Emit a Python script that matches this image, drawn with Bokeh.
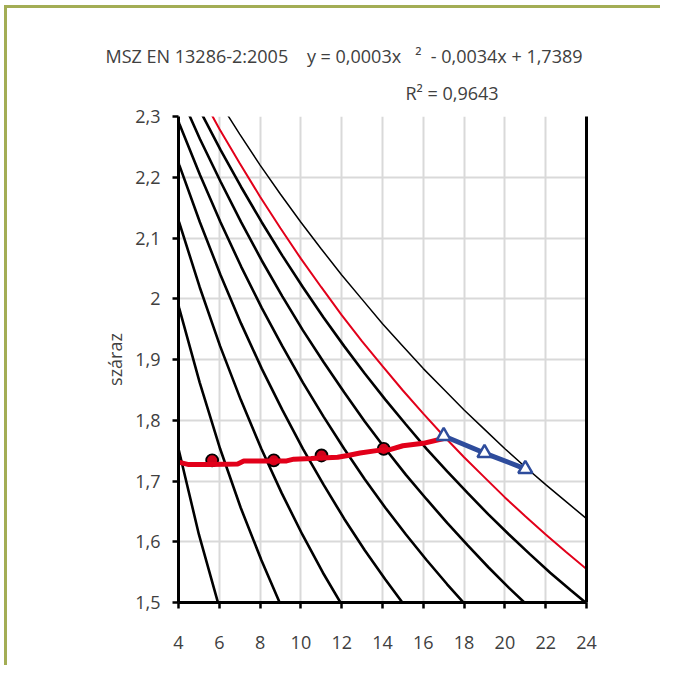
from bokeh.plotting import figure
from bokeh.models import Range1d, FixedTicker, LinearAxis, Title, CustomJSTickFormatter
from bokeh.embed import file_html
from bokeh.resources import INLINE

# ---- data ----
x_ticks = [4, 6, 8, 10, 12, 14, 16, 18, 20, 22, 24]
x_tick_labels = ["4", "6", "8", "10", "12", "14", "16", "18", "20", "22", "24"]
y_ticks = [1.5, 1.6, 1.7, 1.8, 1.9, 2.0, 2.1, 2.2, 2.3]
y_tick_labels = ["1,5", "1,6", "1,7", "1,8", "1,9", "2", "2,1", "2,2", "2,3"]

sr20_x = [3, 4, 5, 6, 7]
sr20_y = [1.922, 1.753, 1.612, 1.492, 1.388]

sr30_x = [3.02, 4.03, 5.04, 6.04, 7.05, 8.06, 9.06, 10.07]
sr30_y = [2.126, 1.985, 1.862, 1.753, 1.656, 1.570, 1.492, 1.421]

sr40_x = [3.02, 4.03, 5.04, 6.04, 7.05, 8.06, 9.06, 10.07, 11.08, 12.08, 13.09]
sr40_y = [2.245, 2.126, 2.019, 1.922, 1.834, 1.753, 1.680, 1.612, 1.549, 1.492, 1.438]

sr50_x = [3.03, 4.04, 5.05, 6.06, 7.07, 8.08, 9.09, 10.1, 11.11, 12.12, 13.13, 14.14, 15.15, 16.16]
sr50_y = [2.324, 2.220, 2.126, 2.039, 1.959, 1.885, 1.817, 1.753, 1.694, 1.638, 1.586, 1.538, 1.492, 1.448]

sr60_x = [3.03, 4.04, 5.05, 6.06, 7.07, 8.08, 9.09, 10.1, 11.11, 12.12, 13.13, 14.14, 15.15, 16.16, 17.17, 18.18, 19.19]
sr60_y = [2.379, 2.288, 2.204, 2.126, 2.053, 1.985, 1.922, 1.862, 1.806, 1.753, 1.703, 1.656, 1.612, 1.570, 1.530, 1.492, 1.456]

sr70_x = [4.04, 5.05, 6.06, 7.07, 8.08, 9.09, 10.1, 11.11, 12.12, 13.13, 14.14, 15.15, 16.16, 17.17, 18.18, 19.19, 20.2, 21.21, 22.22]
sr70_y = [2.339, 2.263, 2.193, 2.126, 2.063, 2.004, 1.948, 1.896, 1.846, 1.798, 1.753, 1.710, 1.670, 1.631, 1.594, 1.558, 1.524, 1.492, 1.461]

sr80_x = [5.05, 6.06, 7.07, 8.08, 9.09, 10.1, 11.11, 12.12, 13.13, 14.14, 15.15, 16.16, 17.17, 18.18, 19.19, 20.2, 21.21, 22.22, 23.23, 24.24]
sr80_y = [2.310, 2.245, 2.184, 2.126, 2.071, 2.019, 1.969, 1.922, 1.877, 1.834, 1.793, 1.753, 1.716, 1.680, 1.645, 1.612, 1.580, 1.549, 1.520, 1.492]

red_x = [5, 6, 7, 8, 9, 10, 11, 12, 13, 14, 15, 16, 17, 18, 19, 20, 21, 22, 23, 24]
red_y = [2.341, 2.280, 2.223, 2.168, 2.116, 2.066, 2.019, 1.973, 1.930, 1.889, 1.849, 1.811, 1.774, 1.739, 1.706, 1.673, 1.642, 1.612, 1.583, 1.555]

sat_x = [6, 7, 8, 9, 10, 11, 12, 13, 14, 15, 16, 17, 18, 19, 20, 21, 22, 23, 24]
sat_y = [2.324, 2.271, 2.220, 2.172, 2.126, 2.082, 2.039, 1.999, 1.959, 1.922, 1.885, 1.851, 1.817, 1.785, 1.753, 1.723, 1.694, 1.666, 1.638]

trend_x = [4.0, 4.5, 5.5, 6.9, 7.2, 8.5, 9.3, 9.65, 10.5, 11.8, 12.3, 12.9, 13.7, 14.4, 15.0, 16.0, 17.0]
trend_y = [1.731, 1.727, 1.727, 1.728, 1.733, 1.733, 1.733, 1.736, 1.737, 1.739, 1.742, 1.746, 1.750, 1.752, 1.758, 1.762, 1.770]

dots_x = [5.65, 8.67, 11.01, 14.06]
dots_y = [1.734, 1.734, 1.742, 1.753]

blue_x = [17.0, 19.0, 21.0]
blue_y = [1.774, 1.746, 1.720]

title_line1 = "MSZ EN 13286-2:2005\u00a0\u00a0\u00a0 y = 0,0003x \u00a0\u00a0\u00b2\u00a0 - 0,0034x + 1,7389"
title_line2 = "R\u00b2 = 0,9643"

FONT = "Open Sans"
TXT = "#404040"

p = figure(width=656, height=660, output_backend="svg", toolbar_location=None, title=None,
           x_range=Range1d(4, 24), y_range=Range1d(1.5, 2.3),
           min_border_left=171, min_border_right=77, min_border_top=108, min_border_bottom=66)
p.styles = {"margin-left": "4px", "margin-top": "5px",
            "border-left": "3px solid #a3ad55", "border-top": "3px solid #a3ad55"}
p.outline_line_color = None
p.background_fill_color = "white"
p.border_fill_color = "white"

p.xgrid.ticker = FixedTicker(ticks=x_ticks)
p.ygrid.ticker = FixedTicker(ticks=y_ticks)
for g in (p.xgrid, p.ygrid):
    g.grid_line_color = "#d9d9d9"
    g.grid_line_width = 2

fmt_code = """
const i = vals.findIndex(v => Math.abs(v - tick) < 1e-6);
return i >= 0 ? labs[i] : "";
"""
p.xaxis.ticker = FixedTicker(ticks=x_ticks)
p.xaxis.formatter = CustomJSTickFormatter(args=dict(vals=x_ticks, labs=x_tick_labels), code=fmt_code)
p.yaxis.ticker = FixedTicker(ticks=y_ticks)
p.yaxis.formatter = CustomJSTickFormatter(args=dict(vals=y_ticks, labs=y_tick_labels), code=fmt_code)

for ax in (p.xaxis, p.yaxis):
    ax.axis_line_color = "black"
    ax.axis_line_width = 3
    ax.major_tick_line_color = "black"
    ax.major_tick_line_width = 2.5
    ax.major_tick_in = 0
    ax.major_tick_out = 6
    ax.minor_tick_line_color = None
    ax.major_label_text_font = FONT
    ax.major_label_text_font_size = "18px"
    ax.major_label_text_color = TXT
p.xaxis.major_label_standoff = 27
p.yaxis.major_label_standoff = 12
p.yaxis.axis_label = "száraz"
p.yaxis.axis_label_text_font = FONT
p.yaxis.axis_label_text_font_size = "18px"
p.yaxis.axis_label_text_font_style = "normal"
p.yaxis.axis_label_text_color = TXT
p.yaxis.axis_label_standoff = 5

right = LinearAxis(ticker=FixedTicker(ticks=[]), axis_line_color="black", axis_line_width=3,
                   major_label_text_font_size="0px", minor_tick_line_color=None)
p.add_layout(right, "right")

for cx, cy in [(sr20_x, sr20_y), (sr30_x, sr30_y), (sr40_x, sr40_y), (sr50_x, sr50_y),
               (sr60_x, sr60_y), (sr70_x, sr70_y), (sr80_x, sr80_y)]:
    p.line(cx, cy, line_color="black", line_width=2.6)
p.line(red_x, red_y, line_color="#e2001a", line_width=2)
p.line(sat_x, sat_y, line_color="black", line_width=1.5)

p.scatter(dots_x, dots_y, marker="circle", size=12, fill_color="#d0021b", line_color="black", line_width=1.8)
p.line(trend_x, trend_y, line_color="#e2001a", line_width=5)
p.line(blue_x, blue_y, line_color="#2e4c9c", line_width=5)
p.scatter(blue_x, blue_y, marker="triangle", size=14, fill_color="white", line_color="#2e4c9c", line_width=2.5)

t2 = Title(text=title_line2, align="left", offset=227, standoff=23,
           text_font=FONT, text_font_size="18px", text_font_style="normal", text_color=TXT)
t1 = Title(text=title_line1, align="left", offset=-73, standoff=0,
           text_font=FONT, text_font_size="18px", text_font_style="normal", text_color=TXT)
p.add_layout(t2, "above")
p.add_layout(t1, "above")

open("out.html", "w").write(file_html(p, INLINE))
